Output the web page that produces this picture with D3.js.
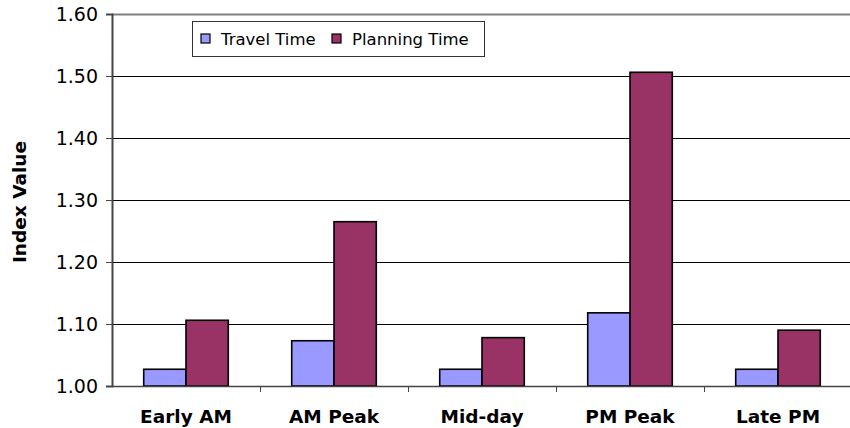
<!DOCTYPE html>
<html>
<head>
<meta charset="utf-8">
<script src="https://cdn.jsdelivr.net/npm/d3@7/dist/d3.min.js"></script>
<style>
  html, body { margin: 0; padding: 0; background: #fff; }
  svg { display: block; }
</style>
</head>
<body>
<svg id="chart" width="850" height="428"></svg>
<script>
// Index values by time period
const categories = ["Early AM", "AM Peak", "Mid-day", "PM Peak", "Late PM"];
const seriesNames = ["Travel Time", "Planning Time"];
const travelTime = [1.027, 1.073, 1.027, 1.118, 1.027];
const planningTime = [1.106, 1.265, 1.078, 1.506, 1.090];
const yTicks = [1.00, 1.10, 1.20, 1.30, 1.40, 1.50, 1.60];
const seriesColors = ["#9999FF", "#993366"];

const svg = d3.select("#chart");
const margin = { left: 112, top: 14, right: -2, bottom: 42 };
const width = 850, height = 428;
const x0 = margin.left, x1 = width - margin.right;
const yTop = margin.top, yBot = height - margin.bottom;

const x = d3.scaleBand().domain(categories).range([x0, x1]).paddingInner(0).paddingOuter(0);
const y = d3.scaleLinear().domain([1.0, 1.6]).range([yBot, yTop]);
// Two bars per category with 150% gap width
const barW = x.bandwidth() / 3.5;
const xs = d3.scaleBand().domain(seriesNames).range([0, 2 * barW]);

const font = "'DejaVu Sans', Verdana, sans-serif";

// Horizontal gridlines
svg.append("g")
  .selectAll("line")
  .data(yTicks.filter(t => t > 1.0 && t < 1.6))
  .join("line")
  .attr("x1", x0).attr("x2", x1)
  .attr("y1", d => Math.round(y(d)) + 0.5).attr("y2", d => Math.round(y(d)) + 0.5)
  .attr("stroke", "#000").attr("stroke-width", 1);

// Plot border top
svg.append("line")
  .attr("x1", x0).attr("x2", x1)
  .attr("y1", Math.round(y(1.6)) + 0.5).attr("y2", Math.round(y(1.6)) + 0.5)
  .attr("stroke", "#808080").attr("stroke-width", 2);

// Bars
const rows = categories.map((c, i) => ({ cat: c, vals: [travelTime[i], planningTime[i]] }));
const groups = svg.append("g").selectAll("g")
  .data(rows).join("g")
  .attr("transform", d => `translate(${x(d.cat) + (x.bandwidth() - 2 * barW) / 2},0)`);
groups.selectAll("rect")
  .data(d => d.vals.map((v, j) => ({ v, s: seriesNames[j], j })))
  .join("rect")
  .attr("x", d => xs(d.s))
  .attr("y", d => y(d.v))
  .attr("width", barW)
  .attr("height", d => y(1.0) - y(d.v))
  .attr("fill", d => seriesColors[d.j])
  .attr("stroke", "#000")
  .attr("stroke-width", 1.6);

// Y axis
const yAxis = d3.axisLeft(y).tickValues(yTicks).tickFormat(d3.format(".2f")).tickSize(6).tickPadding(8);
const gy = svg.append("g").attr("transform", `translate(${x0},0)`).call(yAxis);
gy.select(".domain").attr("stroke", "#444").attr("stroke-width", 2);
gy.selectAll(".tick line").attr("stroke", "#444");
gy.selectAll(".tick text").attr("font-family", font).attr("font-size", 19).attr("fill", "#000");

// X axis
const xAxis = d3.axisBottom(x).tickSize(0).tickPadding(24);
const gx = svg.append("g").attr("transform", `translate(0,${yBot})`).call(xAxis);
gx.select(".domain").attr("stroke", "#444").attr("stroke-width", 1.5);
gx.selectAll(".tick text").attr("font-family", font).attr("font-size", 18.5)
  .attr("font-weight", "bold").attr("fill", "#000");
// Category boundary tick marks
svg.append("g").selectAll("line")
  .data(categories.slice(1))
  .join("line")
  .attr("x1", d => Math.round(x(d)) + 0.5).attr("x2", d => Math.round(x(d)) + 0.5)
  .attr("y1", yBot).attr("y2", yBot + 6)
  .attr("stroke", "#444").attr("stroke-width", 1);

// Y axis title
svg.append("text")
  .attr("transform", `translate(26,${(yTop + yBot) / 2 + 2}) rotate(-90)`)
  .attr("text-anchor", "middle")
  .attr("font-family", font).attr("font-size", 18.5).attr("font-weight", "bold")
  .text("Index Value");

// Legend
const lg = svg.append("g").attr("transform", "translate(192,21)");
lg.append("rect").attr("x", 0.5).attr("y", 0.5).attr("width", 292).attr("height", 35)
  .attr("fill", "#fff").attr("stroke", "#333").attr("stroke-width", 1);
const legendX = [9, 140];
seriesNames.forEach((s, j) => {
  lg.append("rect").attr("x", legendX[j]).attr("y", 13).attr("width", 9).attr("height", 9)
    .attr("fill", seriesColors[j]).attr("stroke", "#000").attr("stroke-width", 1.2);
  lg.append("text").attr("x", legendX[j] + 20).attr("y", 24)
    .attr("font-family", font).attr("font-size", 16.5).text(s);
});
</script>
</body>
</html>
